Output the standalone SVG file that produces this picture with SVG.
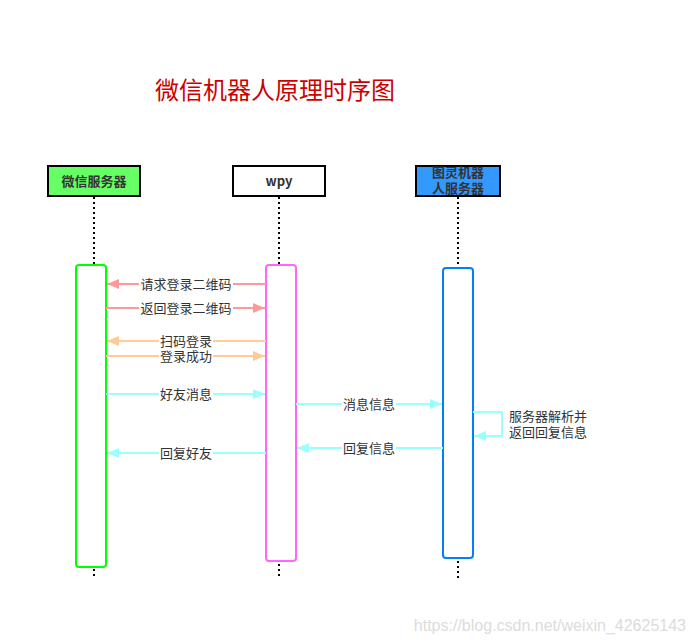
<svg xmlns="http://www.w3.org/2000/svg" width="695" height="642" viewBox="0 0 695 642">
<defs>
<style>
.hdr{stroke:#000;stroke-width:2}
.hl{font-family:"Noto Sans CJK SC","Liberation Sans",sans-serif;font-size:13px;font-weight:bold;fill:#333;text-anchor:middle}
.life{stroke:#000;stroke-width:2;stroke-dasharray:2 3;fill:none}
.act{fill:#fff;stroke-width:2}
.lbl{font-family:"Noto Sans CJK SC","Liberation Sans",sans-serif;font-size:13px;fill:#333;text-anchor:middle}
.lbs{font-family:"Noto Sans CJK SC","Liberation Sans",sans-serif;font-size:13px;fill:#333;text-anchor:start}
.bg{fill:#fff}
.m{fill:none;stroke-width:2}
</style>
<marker id="aR" viewBox="0 0 12 10" refX="12" refY="5" markerWidth="12" markerHeight="10" orient="auto" markerUnits="userSpaceOnUse"><path d="M0,0 L12,5 L0,10 z" fill="#ff9999"/></marker>
<marker id="aO" viewBox="0 0 12 10" refX="12" refY="5" markerWidth="12" markerHeight="10" orient="auto" markerUnits="userSpaceOnUse"><path d="M0,0 L12,5 L0,10 z" fill="#ffcc99"/></marker>
<marker id="aC" viewBox="0 0 12 10" refX="12" refY="5" markerWidth="12" markerHeight="10" orient="auto" markerUnits="userSpaceOnUse"><path d="M0,0 L12,5 L0,10 z" fill="#99ffff"/></marker>
</defs>
<rect width="695" height="642" fill="#fff"/>
<text x="275" y="99" font-family="Noto Sans CJK SC,Liberation Sans,sans-serif" font-size="24" fill="#cc0000" text-anchor="middle">微信机器人原理时序图</text>

<g id="lifelines">
<line class="life" x1="94" y1="197" x2="94" y2="264"/>
<line class="life" x1="279" y1="197" x2="279" y2="264"/>
<line class="life" x1="458" y1="197" x2="458" y2="267"/>
<line class="life" x1="94" y1="569" x2="94" y2="578"/>
<line class="life" x1="279" y1="564" x2="279" y2="578"/>
<line class="life" x1="458" y1="561" x2="458" y2="578"/>
</g>

<g id="wechat-server">
<rect class="hdr" x="48" y="166" width="92" height="30" fill="#66ff66"/>
<text class="hl" x="94" y="186">微信服务器</text>
<rect class="act" x="76" y="265" width="30" height="302" rx="3" stroke="#00ff00"/>
</g>
<g id="wpy">
<rect class="hdr" x="233" y="166" width="92" height="30" fill="#fff"/>
<text class="hl" x="279" y="186">wpy</text>
<rect class="act" x="266" y="265" width="30" height="296" rx="3" stroke="#ff66ff"/>
</g>
<g id="turing">
<rect class="hdr" x="416" y="166" width="84" height="30" fill="#3399ff"/>
<text class="hl" x="458" y="177">图灵机器</text>
<text class="hl" x="458" y="192.5">人服务器</text>
<rect class="act" x="443" y="268" width="30" height="290" rx="3" stroke="#007fff"/>
</g>

<g id="connectors">
<line class="m" stroke="#ff9999" x1="266" y1="284" x2="107" y2="284" marker-end="url(#aR)"/>
<line class="m" stroke="#ff9999" x1="106" y1="308" x2="265" y2="308" marker-end="url(#aR)"/>
<line class="m" stroke="#ffcc99" x1="266" y1="341" x2="107" y2="341" marker-end="url(#aO)"/>
<line class="m" stroke="#ffcc99" x1="106" y1="356" x2="265" y2="356" marker-end="url(#aO)"/>
<line class="m" stroke="#99ffff" x1="106" y1="394" x2="265" y2="394" marker-end="url(#aC)"/>
<line class="m" stroke="#99ffff" x1="266" y1="453" x2="107" y2="453" marker-end="url(#aC)"/>
<line class="m" stroke="#99ffff" x1="296" y1="404" x2="442" y2="404" marker-end="url(#aC)"/>
<line class="m" stroke="#99ffff" x1="443" y1="448" x2="297" y2="448" marker-end="url(#aC)"/>
<path class="m" stroke="#99ffff" d="M473,412 H502 V436 H474" marker-end="url(#aC)"/>

<rect class="bg" x="139" y="277" width="94" height="14"/>
<text class="lbl" x="186" y="289">请求登录二维码</text>
<rect class="bg" x="139" y="301" width="94" height="14"/>
<text class="lbl" x="186" y="313">返回登录二维码</text>
<rect class="bg" x="159" y="334" width="54" height="14"/>
<text class="lbl" x="186" y="346">扫码登录</text>
<rect class="bg" x="159" y="349" width="54" height="14"/>
<text class="lbl" x="186" y="361">登录成功</text>
<rect class="bg" x="159" y="387" width="54" height="14"/>
<text class="lbl" x="186" y="399">好友消息</text>
<rect class="bg" x="159" y="446" width="54" height="14"/>
<text class="lbl" x="186" y="458">回复好友</text>
<rect class="bg" x="342" y="397" width="54" height="14"/>
<text class="lbl" x="369" y="409">消息信息</text>
<rect class="bg" x="342" y="441" width="54" height="14"/>
<text class="lbl" x="369" y="453">回复信息</text>
<text class="lbs" x="509" y="421">服务器解析并</text>
<text class="lbs" x="509" y="437">返回回复信息</text>
</g>
<text x="686" y="631" font-family="Liberation Sans,Arial,sans-serif" font-size="16" fill="#dcdcdc" text-anchor="end">https://blog.csdn.net/weixin_42625143</text>
</svg>
